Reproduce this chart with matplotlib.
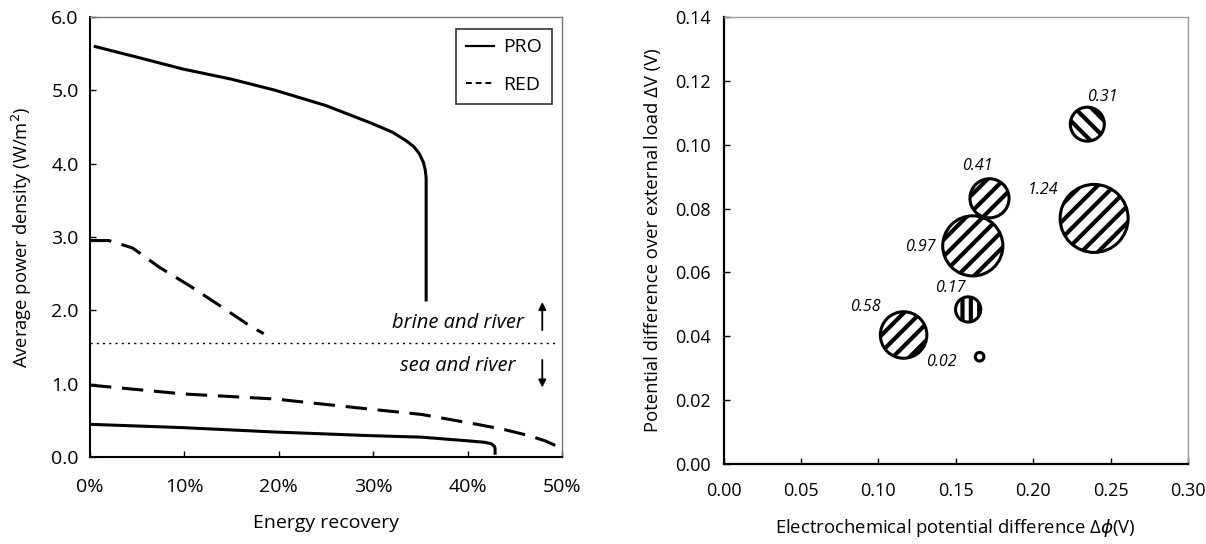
import matplotlib
matplotlib.use("Agg")
import matplotlib.pyplot as plt
from matplotlib.lines import Line2D
from matplotlib.ticker import FuncFormatter, MultipleLocator

plt.rcParams['font.family'] = ['Open Sans', 'DejaVu Sans']
plt.rcParams['hatch.linewidth'] = 3.0

# ---- Left panel data (energy recovery fraction, W/m2) ----
pro_brine_x = [0.004, 0.05, 0.098, 0.15, 0.196, 0.25, 0.298, 0.32, 0.335, 0.343, 0.349, 0.353, 0.355, 0.356, 0.356]
pro_brine_y = [5.60, 5.45, 5.29, 5.15, 5.00, 4.79, 4.55, 4.43, 4.31, 4.23, 4.13, 4.02, 3.92, 3.80, 2.12]

red_brine_x = [0.0, 0.02, 0.045, 0.073, 0.106, 0.139, 0.169, 0.184]
red_brine_y = [2.95, 2.95, 2.85, 2.59, 2.33, 2.05, 1.79, 1.68]

red_sea_x = [0.0, 0.098, 0.196, 0.298, 0.351, 0.412, 0.44, 0.465, 0.482, 0.494]
red_sea_y = [0.98, 0.86, 0.79, 0.65, 0.58, 0.44, 0.37, 0.29, 0.22, 0.15]

pro_sea_x = [0.0, 0.098, 0.196, 0.298, 0.351, 0.40, 0.418, 0.425, 0.428, 0.429, 0.429]
pro_sea_y = [0.445, 0.40, 0.34, 0.29, 0.27, 0.22, 0.20, 0.18, 0.15, 0.12, 0.03]

divider_y = 1.55

# ---- Right panel data ----
bubble_dphi = [0.235, 0.1718, 0.2394, 0.161, 0.158, 0.1163, 0.1654]
bubble_dv = [0.1064, 0.0832, 0.0769, 0.0683, 0.0484, 0.0404, 0.0336]
bubble_val = [0.31, 0.41, 1.24, 0.97, 0.17, 0.58, 0.02]
bubble_labels = ['0.31', '0.41', '1.24', '0.97', '0.17', '0.58', '0.02']
bubble_hatch = ['\\\\', '//', '//', '//', '||', '//', '']
label_x = [0.245, 0.1637, 0.2065, 0.127, 0.1465, 0.0916, 0.141]
label_y = [0.1150, 0.0933, 0.0858, 0.0680, 0.0550, 0.0491, 0.0320]

fig = plt.figure(figsize=(12.06, 5.44), dpi=100)

# ================= Left =================
ax1 = fig.add_axes([0.0746, 0.160, 0.3915, 0.809])
lw = 2.2
ax1.plot(pro_brine_x, pro_brine_y, color='black', lw=lw, solid_capstyle='butt')
ax1.plot(pro_sea_x, pro_sea_y, color='black', lw=lw, solid_capstyle='butt')
ax1.plot(red_brine_x, red_brine_y, color='black', lw=lw, dashes=(7, 3.5))
ax1.plot(red_sea_x, red_sea_y, color='black', lw=lw, dashes=(7, 3.5))
ax1.axhline(divider_y, xmin=0, xmax=0.99, color='black', lw=1.0, ls=(0, (1.5, 3)))

ax1.set_xlim(0, 0.5)
ax1.set_ylim(0, 6.0)
ax1.xaxis.set_major_locator(MultipleLocator(0.1))
ax1.yaxis.set_major_locator(MultipleLocator(1.0))
ax1.xaxis.set_major_formatter(FuncFormatter(lambda v, p: f"{v*100:.0f}%"))
ax1.yaxis.set_major_formatter(FuncFormatter(lambda v, p: f"{v:.1f}"))
ax1.tick_params(direction='in', length=4, width=1, labelsize=14)
ax1.tick_params(axis='x', pad=15)
ax1.tick_params(axis='y', pad=8)
ax1.spines['left'].set_linewidth(1.5)
ax1.spines['bottom'].set_linewidth(1.5)
for s in ('top', 'right'):
    ax1.spines[s].set_color('#777777')
    ax1.spines[s].set_linewidth(1.0)
ax1.set_xlabel('Energy recovery', fontsize=14)
ax1.set_ylabel('Average power density (W/m$^2$)', fontsize=13.2)
ax1.xaxis.set_label_coords(0.5, -0.15)
ax1.xaxis.label.set_va('center')
ax1.yaxis.set_label_coords(-0.145, 0.5)
ax1.yaxis.label.set_va('center')

ax1.text(0.39, 1.83, 'brine and river', fontsize=14.5, style='italic', ha='center', va='center')
ax1.text(0.39, 1.24, 'sea and river', fontsize=14.5, style='italic', ha='center', va='center')
ax1.annotate('', xy=(0.479, 2.15), xytext=(0.479, 1.69),
             arrowprops=dict(arrowstyle='-|>', color='black', lw=1.3, mutation_scale=11))
ax1.annotate('', xy=(0.479, 0.91), xytext=(0.479, 1.36),
             arrowprops=dict(arrowstyle='-|>', color='black', lw=1.3, mutation_scale=11))

handles = [Line2D([], [], color='black', lw=1.6),
           Line2D([], [], color='black', lw=1.4, dashes=(3, 2))]
leg = ax1.legend(handles, ['PRO', 'RED'], loc='upper right', fontsize=14,
                 frameon=True, fancybox=False, edgecolor='black', handlelength=1.45,
                 handletextpad=0.5, borderpad=0.5, labelspacing=1.0, borderaxespad=0,
                 bbox_to_anchor=(0.979, 0.973))
leg.get_frame().set_linewidth(1.2)

# ================= Right =================
ax2 = fig.add_axes([0.600, 0.147, 0.385, 0.822])
sizes = [1933 * v for v in bubble_val]
for xv, yv, sz, h in zip(bubble_dphi, bubble_dv, sizes, bubble_hatch):
    ax2.scatter([xv], [yv], s=sz, facecolor='white', edgecolor='black',
                linewidth=2.2, hatch=h, zorder=3)
for lx, ly, t in zip(label_x, label_y, bubble_labels):
    ax2.text(lx, ly, t, fontsize=11.5, style='italic', ha='center', va='center')

ax2.set_xlim(0, 0.30)
ax2.set_ylim(0, 0.14)
ax2.xaxis.set_major_locator(MultipleLocator(0.05))
ax2.yaxis.set_major_locator(MultipleLocator(0.02))
ax2.xaxis.set_major_formatter(FuncFormatter(lambda v, p: f"{v:.2f}"))
ax2.yaxis.set_major_formatter(FuncFormatter(lambda v, p: f"{v:.2f}"))
ax2.tick_params(direction='in', length=4, width=1, labelsize=13)
ax2.tick_params(axis='x', pad=13)
ax2.tick_params(axis='y', pad=9)
ax2.spines['left'].set_linewidth(1.6)
ax2.spines['bottom'].set_linewidth(1.6)
for s in ('top', 'right'):
    ax2.spines[s].set_color('#999999')
    ax2.spines[s].set_linewidth(1.0)
ax2.set_xlabel('Electrochemical potential difference Δ$\\phi$(V)', fontsize=13.3)
ax2.set_ylabel('Potential difference over external load ΔV (V)', fontsize=13.3)
ax2.xaxis.set_label_coords(0.5, -0.143)
ax2.xaxis.label.set_va('center')
ax2.yaxis.set_label_coords(-0.153, 0.5)
ax2.yaxis.label.set_va('center')

fig.savefig('out.png', dpi=100)
